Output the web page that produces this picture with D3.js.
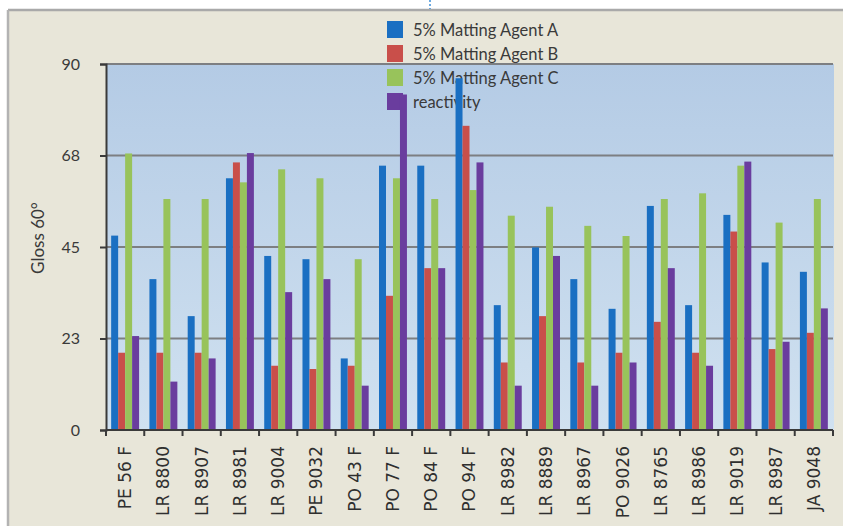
<!DOCTYPE html>
<html>
<head>
<meta charset="utf-8">
<script src="https://cdn.jsdelivr.net/npm/d3@7/dist/d3.min.js"></script>
<style>
  html, body { margin: 0; padding: 0; background: #ffffff; }
  svg { display: block; }
</style>
</head>
<body>
<svg id="chart" width="843" height="526"></svg>
<script>
// Gloss 60° per sample for three matting agents and reactivity
const categories = ["PE 56 F", "LR 8800", "LR 8907", "LR 8981", "LR 9004", "PE 9032", "PO 43 F",
  "PO 77 F", "PO 84 F", "PO 94 F", "LR 8982", "LR 8889", "LR 8967", "PO 9026", "LR 8765",
  "LR 8986", "LR 9019", "LR 8987", "JA 9048"];

const seriesNames = ["5% Matting Agent A", "5% Matting Agent B", "5% Matting Agent C", "reactivity"];

const agentA     = [47.8, 37.1, 28.0, 61.9, 42.8, 42.0, 17.6, 65.0, 65.0, 86.5, 30.7, 44.9, 37.1, 29.8, 55.1, 30.7, 52.9, 41.2, 38.9];
const agentB     = [19.0, 19.0, 19.0, 65.8, 15.8, 15.0, 15.8, 33.0, 39.8, 74.8, 16.6, 28.0, 16.6, 19.0, 26.6, 19.0, 48.8, 19.9, 23.9];
const agentC     = [68.0, 56.8, 56.8, 60.9, 64.1, 61.9, 42.0, 61.9, 56.8, 59.0, 52.7, 54.9, 50.2, 47.7, 56.8, 58.2, 65.0, 51.0, 56.8];
const reactivity = [23.1, 11.9, 17.6, 68.1, 33.9, 37.1, 10.9, 82.5, 39.8, 65.8, 10.9, 42.8, 10.9, 16.6, 39.8, 15.8, 66.0, 21.7, 29.9];

const yTickValues = [0, 22.5, 45, 67.5, 90];
const yTickLabels = ["0", "23", "45", "68", "90"];

const seriesColors = ["#1a6fc2", "#c94f4a", "#98c35b", "#6a3d9e"];
const seriesValues = [agentA, agentB, agentC, reactivity];

const svg = d3.select("#chart");
const plot = { left: 106, right: 833, top: 64, bottom: 430 };

// frame
svg.append("rect").attr("x", 8).attr("y", 10).attr("width", 835).attr("height", 516).attr("fill", "#e8e6d9");
svg.append("line").attr("x1", 8).attr("x2", 843).attr("y1", 10).attr("y2", 10)
  .attr("stroke", "#a9a9a9").attr("stroke-width", 2.5);
svg.append("line").attr("x1", 8).attr("x2", 8).attr("y1", 10).attr("y2", 526)
  .attr("stroke", "#b3b3b3").attr("stroke-width", 2.5);
svg.append("line").attr("x1", 430).attr("x2", 430).attr("y1", 0).attr("y2", 9)
  .attr("stroke", "#3d8fd8").attr("stroke-width", 1.5).attr("stroke-dasharray", "2,2");

// plot background gradient
const defs = svg.append("defs");
const grad = defs.append("linearGradient").attr("id", "plotBg")
  .attr("x1", 0).attr("y1", 0).attr("x2", 0).attr("y2", 1);
grad.append("stop").attr("offset", "0%").attr("stop-color", "#b4cbe5");
grad.append("stop").attr("offset", "100%").attr("stop-color", "#d0e1f0");

svg.append("rect")
  .attr("x", plot.left).attr("y", plot.top)
  .attr("width", plot.right - plot.left + 1).attr("height", plot.bottom - plot.top)
  .attr("fill", "url(#plotBg)");

// scales
const y = d3.scaleLinear().domain([0, 90]).range([plot.bottom, plot.top]);
const x0 = d3.scaleBand().domain(categories).range([plot.left, plot.right])
  .paddingInner(0.27).paddingOuter(0.135);
const x1 = d3.scaleBand().domain(d3.range(seriesNames.length)).range([0, x0.bandwidth()]);

// gridlines
svg.append("g").selectAll("line").data(yTickValues.filter(v => v > 0)).join("line")
  .attr("x1", plot.left).attr("x2", plot.right)
  .attr("y1", d => y(d)).attr("y2", d => y(d))
  .attr("stroke", "#7d7f82").attr("stroke-width", 2);

// legend
const legend = svg.append("g").attr("transform", "translate(387,21)");
const items = legend.selectAll("g").data(seriesNames).join("g")
  .attr("transform", (d, i) => `translate(0,${i * 24})`);
items.append("rect").attr("width", 16).attr("height", 17)
  .attr("fill", (d, i) => seriesColors[i]);
items.append("text").attr("x", 26).attr("y", 9).attr("dy", "0.35em")
  .attr("font-family", "Lato, 'Open Sans', sans-serif").attr("font-size", 16.5)
  .attr("fill", "#3a3a3a").text(d => d);

// bars
const groups = svg.append("g").selectAll("g").data(categories).join("g")
  .attr("transform", d => `translate(${x0(d)},0)`);
groups.selectAll("rect")
  .data((d, ci) => seriesValues.map((vals, si) => ({ si, v: vals[ci] })))
  .join("rect")
  .attr("x", d => x1(d.si))
  .attr("width", x1.bandwidth())
  .attr("y", d => y(d.v))
  .attr("height", d => y(0) - y(d.v))
  .attr("fill", d => seriesColors[d.si]);

// y axis
const yAxis = svg.append("g").attr("transform", `translate(${plot.left},0)`)
  .call(d3.axisLeft(y).tickValues(yTickValues)
    .tickFormat((d, i) => yTickLabels[i]).tickSize(6).tickPadding(20));
yAxis.select(".domain").attr("stroke", "#3a3a3a").attr("stroke-width", 2);
yAxis.selectAll(".tick line").attr("stroke", "#3a3a3a").attr("stroke-width", 2);
yAxis.selectAll(".tick text").attr("font-family", "Lato, 'Open Sans', sans-serif")
  .attr("font-size", 16).attr("fill", "#3a3a3a");

// x axis line with ticks at category boundaries
const step = x0.step();
const boundaries = categories.map(c => x0(c) - step * x0.paddingOuter()).concat([plot.right]);
svg.append("line").attr("x1", plot.left).attr("x2", plot.right)
  .attr("y1", plot.bottom).attr("y2", plot.bottom)
  .attr("stroke", "#3a3a3a").attr("stroke-width", 2);
svg.append("g").selectAll("line").data(boundaries).join("line")
  .attr("x1", d => d).attr("x2", d => d)
  .attr("y1", plot.bottom).attr("y2", plot.bottom + 6)
  .attr("stroke", "#3a3a3a").attr("stroke-width", 2);

// category labels
svg.append("g").selectAll("text").data(categories).join("text")
  .attr("transform", d => `translate(${x0(d) + x0.bandwidth() / 2},446) rotate(-90)`)
  .attr("text-anchor", "end").attr("dy", "0.35em")
  .attr("font-family", "'DejaVu Sans', Verdana, sans-serif").attr("font-size", 17)
  .attr("fill", "#2f2f2f").text(d => d);

// y axis title
svg.append("text")
  .attr("transform", "translate(38,238) rotate(-90)")
  .attr("text-anchor", "middle").attr("dy", "0.35em")
  .attr("font-family", "Lato, 'Open Sans', sans-serif").attr("font-size", 17)
  .attr("fill", "#3a3a3a").text("Gloss 60°");
</script>
</body>
</html>
